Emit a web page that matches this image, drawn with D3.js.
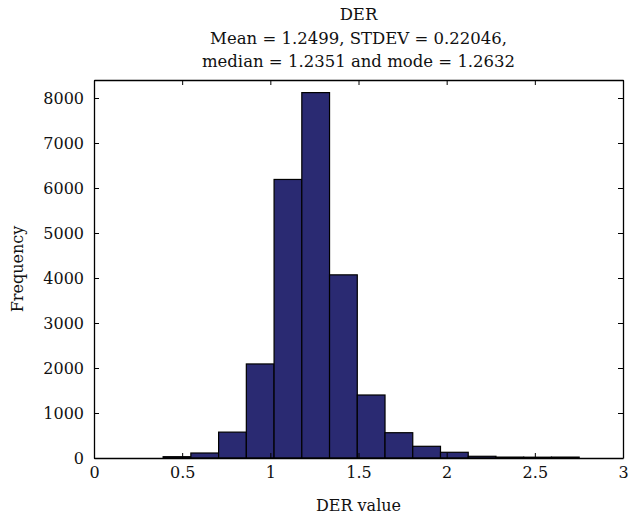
<!DOCTYPE html>
<html>
<head>
<meta charset="utf-8">
<script src="https://cdn.jsdelivr.net/npm/d3@7"></script>
<style>
  body { margin: 0; background: #fff; }
  svg text { font-family: "DejaVu Serif", serif; fill: #111; }
</style>
</head>
<body>
<svg width="633" height="522"></svg>
<script>
// histogram bins (DER value), 15 equal-width bins
var binStart = 0.392;
var binWidth = 0.1573;
var counts = [29, 111, 575, 2090, 6190, 8120, 4070, 1400, 562, 260, 127, 38, 20, 18, 20];
var xTicks = [0, 0.5, 1, 1.5, 2, 2.5, 3];
var yTicks = [0, 1000, 2000, 3000, 4000, 5000, 6000, 7000, 8000];
var titleLines = ["DER", "Mean = 1.2499, STDEV = 0.22046,", "median = 1.2351 and mode = 1.2632"];

var bins = counts.map(function(c, i) {
  return {x0: binStart + i * binWidth, x1: binStart + (i + 1) * binWidth, n: c};
});

var m = {l: 94, r: 10, t: 80, b: 64};
var W = 633, H = 522;
var svg = d3.select("svg");

var x = d3.scaleLinear().domain([0, 3]).range([m.l, W - m.r]);
var y = d3.scaleLinear().domain([0, 8400]).range([H - m.b, m.t]);

// bars
svg.append("g").selectAll("rect")
  .data(bins)
  .enter()
  .append("rect")
  .attr("x", function(d) { return x(d.x0); })
  .attr("y", function(d) { return y(d.n); })
  .attr("width", function(d) { return x(d.x1) - x(d.x0); })
  .attr("height", function(d) { return y(0) - y(d.n); })
  .style("fill", "#2a2a72")
  .style("stroke", "#000")
  .style("stroke-width", 1.2);

// axes with inward ticks, mirrored on top/right
var fs = "16px";
var axB = svg.append("g").attr("transform", "translate(0," + y(0) + ")")
  .call(d3.axisBottom(x).tickValues(xTicks).tickSizeInner(-5).tickSizeOuter(0).tickPadding(9).tickFormat(d3.format("")));
var axL = svg.append("g").attr("transform", "translate(" + x(0) + ",0)")
  .call(d3.axisLeft(y).tickValues(yTicks).tickSizeInner(-5).tickSizeOuter(0).tickPadding(10).tickFormat(d3.format("d")));
var axT = svg.append("g").attr("transform", "translate(0," + y(8400) + ")")
  .call(d3.axisTop(x).tickValues(xTicks).tickSizeInner(-5).tickSizeOuter(0).tickFormat(""));
var axR = svg.append("g").attr("transform", "translate(" + x(3) + ",0)")
  .call(d3.axisRight(y).tickValues(yTicks).tickSizeInner(-5).tickSizeOuter(0).tickFormat(""));

[axB, axL, axT, axR].forEach(function(g) {
  g.attr("font-family", null);
  g.select(".domain").style("stroke", "#000").style("stroke-width", 1.3);
  g.selectAll(".tick line").style("stroke", "#000");
  g.selectAll("text").style("font-size", fs).attr("fill", "#111");
});

// titles and labels
titleLines.forEach(function(t, i) {
  svg.append("text")
    .attr("x", (x(0) + x(3)) / 2)
    .attr("y", 20 + i * 23.5)
    .attr("text-anchor", "middle")
    .style("font-size", "16.5px")
    .text(t);
});

svg.append("text")
  .attr("x", (x(0) + x(3)) / 2)
  .attr("y", 511)
  .attr("text-anchor", "middle")
  .style("font-size", "16px")
  .text("DER value");

svg.append("text")
  .attr("transform", "translate(23," + (y(4200)) + ") rotate(-90)")
  .attr("text-anchor", "middle")
  .style("font-size", "16px")
  .text("Frequency");
</script>
</body>
</html>
